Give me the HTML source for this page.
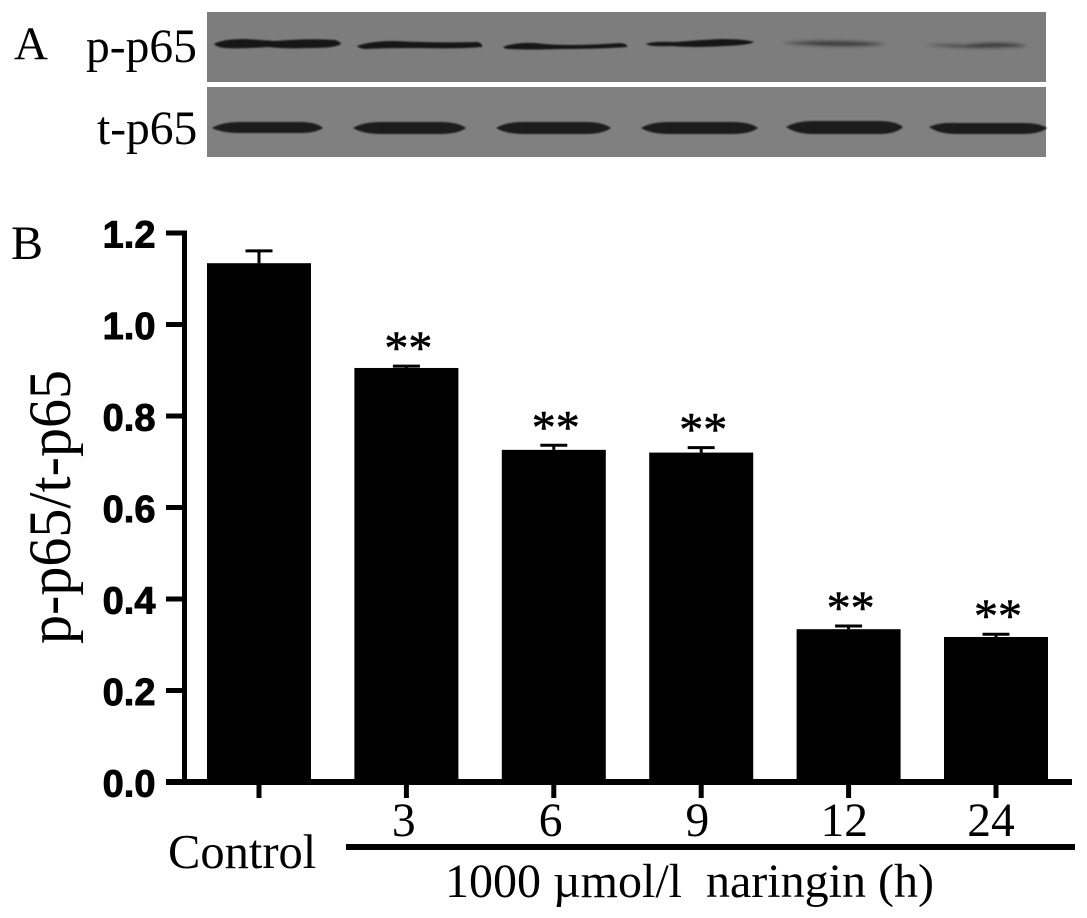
<!DOCTYPE html>
<html lang="en">
<head>
<meta charset="utf-8">
<title>p-p65/t-p65 western blot and bar chart</title>
<style>
html,body{margin:0;padding:0;background:#fff;width:1087px;height:918px;overflow:hidden}
svg{display:block}
.serif{font-family:"Liberation Serif",serif;fill:#000}
.sans{font-family:"Liberation Sans",sans-serif;font-weight:bold;fill:#000;stroke:#000;stroke-width:.9px}
</style>
</head>
<body>
<svg id="figure" width="1087" height="918" viewBox="0 0 1087 918" xmlns="http://www.w3.org/2000/svg">
  <defs>
    <filter id="soft" x="-5%" y="-80%" width="110%" height="260%"><feGaussianBlur stdDeviation="0.9"/></filter>
    <filter id="softer" x="-5%" y="-150%" width="110%" height="400%"><feGaussianBlur stdDeviation="1.6"/></filter>
  </defs>
  <rect width="1087" height="918" fill="#fff"/>

  <text class="serif" x="14" y="59" font-size="47">A</text>
  <text class="serif" x="86" y="62" font-size="47.5">p-p65</text>
  <text class="serif" x="97" y="144" font-size="47.5">t-p65</text>

  <g>
    <rect x="207" y="12" width="839" height="70" fill="#7d7d7d"/>
    <g filter="url(#soft)" fill="#151515">
      <path d="M214 44 Q222 39 245 39 Q262 40 275 41 Q310 38 335 40 Q341 42 341 44 Q336 48 310 48 Q285 49 268 47 Q240 49 225 48 Q216 47 214 44Z"/>
      <path d="M357 46 Q370 41 395 41 Q430 43 478 42 Q483 44 482 47 Q460 49 420 48 Q385 48 365 49 Q358 48 357 46Z"/>
      <path d="M503 47 Q515 42 535 43 Q565 47 620 43 Q628 44 627 47 Q600 49 560 49 Q530 50 510 49 Q504 49 503 47Z"/>
      <path d="M646 44 Q652 41 675 42 Q700 40 720 39 Q745 39 754 42 Q750 45 725 46 Q695 48 670 46 Q650 47 646 44Z"/>
    </g>
    <g filter="url(#softer)" fill="#2a2a2a">
      <path d="M782 43 Q810 41 830 41 Q860 41 886 44 Q860 47 830 46 Q805 45 782 43Z" opacity=".75"/>
      <path d="M925 45 Q945 44 965 45 Q985 42 1005 43 Q1020 44 1028 46 Q1000 48 975 48 Q950 47 925 45Z" opacity=".75"/>
    </g>
  </g>
  <g>
    <rect x="207" y="87" width="839" height="70" fill="#808080"/>
    <g filter="url(#soft)" fill="#1a1a1a">
      <path d="M212 128 Q222 122 240 122 H300 Q316 122 323 128 Q316 133 300 133 H240 Q222 133 212 128Z"/>
      <path d="M353 128 Q363 122 381 122 H440 Q458 122 466 128 Q458 134 440 134 H381 Q363 134 353 128Z"/>
      <path d="M496 128 Q506 122 524 122 H585 Q603 122 611 128 Q603 134 585 134 H524 Q506 134 496 128Z"/>
      <path d="M641 128 Q651 122 669 122 H732 Q750 122 758 128 Q750 134 732 134 H669 Q651 134 641 128Z"/>
      <path d="M786 127 Q796 121 814 121 H878 Q896 121 903 127 Q896 134 878 134 H814 Q796 134 786 127Z"/>
      <path d="M929 127 Q939 122 957 123 H1022 Q1040 123 1047 128 Q1040 134 1022 134 H957 Q939 134 929 127Z"/>
    </g>
  </g>

  <text class="serif" x="11" y="259" font-size="48">B</text>
  <text class="serif" font-size="60" text-anchor="middle" textLength="274" lengthAdjust="spacingAndGlyphs" transform="translate(70,507) rotate(-90)">p-p65/t-p65</text>

  <g id="chart"></g>

  <text class="serif" x="168" y="868" font-size="48.500">Control</text>
  <rect x="346" y="844" width="729" height="6" fill="#000"/>
  <text class="serif" x="445" y="897" font-size="48">1000 µmol/l&#160; naringin (h)</text>
</svg>

<script>
const categories = ['Control', '3', '6', '9', '12', '24'];
const tickLabels = ['', '3', '6', '9', '12', '24'];
const barValues = [1.134, 0.905, 0.726, 0.72, 0.334, 0.317];
const errorValues = [0.027, 0.004, 0.01, 0.011, 0.007, 0.006];
const significance = ['', '**', '**', '**', '**', '**'];
const yTicks = [0, 0.2, 0.4, 0.6, 0.8, 1.0, 1.2];

const NS = 'http://www.w3.org/2000/svg';
const chart = document.getElementById('chart');
const Y0 = 782, PX_PER_UNIT = 457.5, X0 = 259, STEP = 147.4, BAR_W = 104;
function yScale(v) { return Y0 - v * PX_PER_UNIT; }
function xScale(i) { return X0 + i * STEP; }
function labelX(i) { return xScale(i) - 2 - i * 0.6; }
function add(tag, attrs, parent) {
  const el = document.createElementNS(NS, tag);
  for (const k in attrs) el.setAttribute(k, attrs[k]);
  (parent || chart).appendChild(el);
  return el;
}

categories.forEach(function (cat, i) {
  const cx = xScale(i);
  const top = yScale(barValues[i]);
  const errTop = yScale(barValues[i] + errorValues[i]);

  const err = add('path', { d: 'M' + cx + ' ' + top + 'V' + errTop + 'M' + (cx - 13.5) + ' ' + errTop + 'H' + (cx + 13.5), stroke: '#000', 'stroke-width': 3, fill: 'none' });
  
  

  const bar = add('rect', { x: cx - BAR_W / 2, y: top, width: BAR_W, height: Y0 - top, fill: '#000' });
  
  

  const tick = add('rect', { x: cx - 2.5, y: Y0, width: 5, height: 16, fill: '#000' });
  
  

  if (tickLabels[i]) {
    const lab = add('text', { x: labelX(i), y: 836, 'font-size': 47.5, 'text-anchor': 'middle', class: 'serif' });
    lab.textContent = tickLabels[i];
    
    
  }

  if (significance[i]) {
    const star = add('text', { x: cx + 2, y: errTop - 2, 'font-size': 48, 'text-anchor': 'middle', class: 'serif', stroke: '#000', 'stroke-width': 0.6 });
    star.textContent = significance[i];
    
    
  }
});

const yAxis = add('rect', { x: 182, y: yScale(1.2) - 2.5, width: 5, height: Y0 - yScale(1.2) + 5, fill: '#000' });



const xAxis = add('rect', { x: 166, y: Y0 - 3, width: 906, height: 6, fill: '#000' });



yTicks.forEach(function (t) {
  const y = yScale(t);
  const tick = add('rect', { x: 166, y: y - 2.5, width: 17, height: 5, fill: '#000' });
  
  

  const lab = add('text', { x: 155.5, y: y + 14.5, 'font-size': 38, 'text-anchor': 'end', class: 'sans' });
  lab.textContent = t.toFixed(1);
  
  
});
</script>
</body>
</html>
